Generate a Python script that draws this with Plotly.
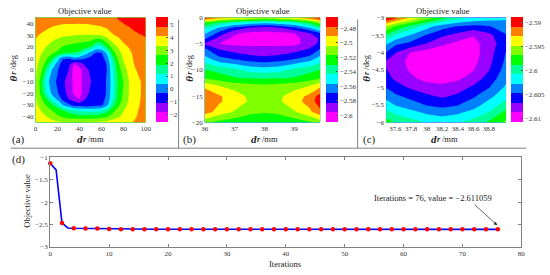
import plotly.graph_objects as go

W, H = 550, 275
SERIF = "Liberation Serif"
COLORS = ["#ff00ff", "#9a00ff", "#0000ff", "#0080ff", "#00ffff", "#00ff99",
          "#00ff00", "#80ff00", "#ffff00", "#ff8000", "#ff0000"]

a_x = [0, 5, 10, 15, 20, 25, 30, 35, 40, 45, 50, 55, 60, 65, 70, 75, 80, 85, 90, 100]
a_y = [45, 40, 30, 20, 15, 10, 5, 0, -10, -20, -25, -30, -35, -40, -45]
a_z = [
    [4.9, 4.6, 4.5, 4.4, 4.3, 4.25, 4.2, 4.2, 4.2, 4.2, 4.25, 4.3, 4.35, 4.5, 4.7, 4.85, 5.0, 5.15, 5.3, 5.5],
    [4.5, 4.4, 4.3, 4.2, 4.15, 4.1, 4.1, 4.1, 4.08, 4.1, 4.15, 4.2, 4.3, 4.4, 4.55, 4.7, 4.8, 4.9, 5.0, 5.2],
    [4.15, 4.0, 3.85, 3.7, 3.55, 3.45, 3.4, 3.35, 3.3, 3.3, 3.3, 3.3, 3.4, 3.65, 4.0, 4.2, 4.4, 4.55, 4.7, 4.85],
    [3.9, 3.6, 3.3, 3.0, 2.75, 2.55, 2.4, 2.3, 2.2, 2.1, 1.9, 0.9, 1.0, 2.0, 2.9, 3.4, 3.9, 4.1, 4.3, 4.6],
    [3.8, 3.4, 3.0, 2.7, 2.5, 2.2, 2.0, 1.85, 1.7, 0.8, 0.2, -0.4, -0.35, 0.6, 2.2, 3.0, 3.6, 3.95, 4.2, 4.5],
    [3.7, 3.2, 2.7, 2.0, 0.8, -0.3, -0.35, 0.1, -0.1, -0.3, -0.6, -0.9, -0.7, 0.0, 1.5, 2.7, 3.4, 3.85, 4.15, 4.5],
    [3.6, 3.0, 2.2, 1.0, 0.0, -0.8, -0.9, -1.9, -1.5, -1.0, -0.9, -1.0, -0.95, -0.3, 1.1, 2.4, 3.2, 3.75, 4.1, 4.45],
    [3.5, 2.8, 1.5, 0.3, -0.3, -0.9, -1.1, -2.2, -2.2, -1.4, -1.0, -0.95, -0.9, -0.35, 0.9, 2.2, 3.0, 3.55, 4.0, 4.4],
    [3.4, 2.2, 0.7, -0.1, -0.5, -0.95, -1.5, -2.0, -2.1, -1.5, -1.15, -0.9, -0.7, -0.3, 0.75, 1.95, 2.6, 3.32, 3.75, 4.3],
    [3.4, 2.4, 1.1, 0.2, -0.3, -0.9, -1.3, -2.0, -2.2, -1.4, -1.0, -0.9, -0.7, -0.3, 0.85, 2.0, 2.7, 3.35, 3.8, 4.25],
    [3.45, 2.7, 1.9, 0.9, 0.2, -0.6, -1.1, -1.4, -1.9, -1.15, -0.9, -0.85, -0.65, -0.2, 1.0, 2.1, 2.8, 3.4, 3.85, 4.25],
    [3.55, 3.0, 2.5, 2.0, 1.2, 0.3, -0.2, -0.7, -0.7, -0.8, -0.7, -0.6, -0.5, 0.1, 1.5, 2.4, 3.0, 3.5, 3.9, 4.25],
    [3.7, 3.3, 2.9, 2.6, 2.3, 1.9, 1.6, 1.2, 1.0, 0.9, 0.9, 0.9, 1.0, 1.6, 2.3, 2.9, 3.3, 3.7, 3.95, 4.3],
    [3.9, 3.6, 3.35, 3.0, 2.7, 2.5, 2.3, 2.2, 2.1, 2.1, 2.15, 2.2, 2.3, 2.5, 2.9, 3.2, 3.5, 3.8, 4.0, 4.3],
    [4.0, 3.85, 3.7, 3.55, 3.45, 3.4, 3.35, 3.35, 3.35, 3.35, 3.4, 3.45, 3.5, 3.6, 3.75, 3.85, 3.9, 4.0, 4.1, 4.3],
]

b_x = [36, 36.5, 37, 37.5, 38, 38.5, 39, 39.5, 39.87]
b_y = [0, -1, -2, -3, -4, -5, -6, -7, -8, -10, -11.5, -13, -15, -16, -18, -19, -20]
b_z = [
    [-2.47, -2.485, -2.49, -2.495, -2.50, -2.495, -2.49, -2.48, -2.468],
    [-2.52, -2.535, -2.545, -2.55, -2.555, -2.55, -2.545, -2.53, -2.51],
    [-2.54, -2.56, -2.575, -2.585, -2.59, -2.585, -2.575, -2.56, -2.54],
    [-2.555, -2.575, -2.595, -2.60, -2.60, -2.60, -2.597, -2.585, -2.572],
    [-2.568, -2.59, -2.60, -2.604, -2.605, -2.604, -2.60, -2.592, -2.582],
    [-2.585, -2.597, -2.60, -2.60, -2.60, -2.60, -2.60, -2.592, -2.58],
    [-2.568, -2.585, -2.59, -2.592, -2.592, -2.592, -2.59, -2.583, -2.57],
    [-2.56, -2.575, -2.58, -2.585, -2.587, -2.585, -2.58, -2.575, -2.56],
    [-2.55, -2.565, -2.57, -2.575, -2.578, -2.575, -2.57, -2.562, -2.55],
    [-2.53, -2.535, -2.54, -2.548, -2.55, -2.548, -2.54, -2.535, -2.53],
    [-2.52, -2.525, -2.53, -2.532, -2.533, -2.532, -2.53, -2.525, -2.52],
    [-2.495, -2.505, -2.51, -2.513, -2.515, -2.513, -2.51, -2.505, -2.495],
    [-2.48, -2.49, -2.498, -2.507, -2.51, -2.507, -2.498, -2.488, -2.472],
    [-2.479, -2.49, -2.497, -2.506, -2.508, -2.506, -2.497, -2.486, -2.47],
    [-2.485, -2.497, -2.506, -2.514, -2.516, -2.514, -2.506, -2.495, -2.482],
    [-2.50, -2.51, -2.516, -2.522, -2.525, -2.522, -2.516, -2.508, -2.498],
    [-2.515, -2.522, -2.525, -2.528, -2.53, -2.528, -2.525, -2.52, -2.512],
]

c_x = [37.48, 37.6, 37.8, 38, 38.2, 38.4, 38.6, 38.8, 39.02]
c_y = [-3, -3.25, -3.5, -3.75, -4, -4.25, -4.5, -4.75, -5, -5.25, -5.5, -5.75, -6]
c_z = [
    [-2.5885, -2.5905, -2.593, -2.5955, -2.598, -2.6, -2.601, -2.6018, -2.6025],
    [-2.595, -2.597, -2.5995, -2.602, -2.604, -2.605, -2.6055, -2.605, -2.604],
    [-2.599, -2.601, -2.603, -2.605, -2.6065, -2.6075, -2.6088, -2.6075, -2.605],
    [-2.6025, -2.6045, -2.6055, -2.607, -2.6085, -2.6095, -2.6095, -2.608, -2.6055],
    [-2.605, -2.6068, -2.609, -2.6098, -2.6102, -2.6104, -2.6097, -2.6078, -2.6048],
    [-2.607, -2.608, -2.6095, -2.6105, -2.6108, -2.6105, -2.6095, -2.6075, -2.6045],
    [-2.6068, -2.6078, -2.6092, -2.6103, -2.6105, -2.6102, -2.609, -2.607, -2.604],
    [-2.6062, -2.6072, -2.6085, -2.6095, -2.6097, -2.6092, -2.608, -2.606, -2.6035],
    [-2.605, -2.606, -2.6072, -2.608, -2.6083, -2.6078, -2.6065, -2.605, -2.6025],
    [-2.6035, -2.6045, -2.6055, -2.6065, -2.6072, -2.6065, -2.6052, -2.6035, -2.6015],
    [-2.602, -2.603, -2.604, -2.605, -2.6055, -2.605, -2.6038, -2.602, -2.6],
    [-2.6, -2.601, -2.602, -2.603, -2.6035, -2.603, -2.602, -2.6005, -2.598],
    [-2.598, -2.599, -2.6, -2.601, -2.6015, -2.601, -2.6, -2.5985, -2.5965],
]

iterations = [0, 1, 2, 3, 4, 6, 8, 10, 12, 14, 16, 18, 20, 22, 24, 26, 28, 30, 32, 34, 36, 38, 40,
              42, 44, 46, 48, 50, 52, 54, 56, 58, 60, 62, 64, 66, 68, 70, 72, 74, 76]
objective = [-1.13, -1.28, -2.47, -2.58, -2.585, -2.59, -2.59, -2.605, -2.608, -2.609, -2.61, -2.61,
             -2.61, -2.61, -2.611, -2.611, -2.611, -2.611, -2.611, -2.611, -2.611, -2.611, -2.611,
             -2.611, -2.611, -2.611, -2.611, -2.611, -2.611, -2.611, -2.611, -2.611, -2.611, -2.611,
             -2.611, -2.611, -2.611, -2.611, -2.611, -2.611, -2.611059]
marker_iter = [0, 2, 4, 6, 8, 10, 12, 14, 16, 18, 20, 22, 24, 26, 28, 30, 32, 34, 36, 38, 40,
               42, 44, 46, 48, 50, 52, 54, 56, 58, 60, 62, 64, 66, 68, 70, 72, 74, 76]
marker_val = [-1.13, -2.47, -2.585, -2.59, -2.59, -2.605, -2.608, -2.609, -2.61, -2.61,
              -2.61, -2.61, -2.611, -2.611, -2.611, -2.611, -2.611, -2.611, -2.611, -2.611, -2.611,
              -2.611, -2.611, -2.611, -2.611, -2.611, -2.611, -2.611, -2.611, -2.611, -2.611, -2.611,
              -2.611, -2.611, -2.611, -2.611, -2.611, -2.611, -2.611059]

PANELS = [
    dict(x=a_x, y=a_y, z=a_z, box=(33, 145, 14, 122), bar=(156, 168), zr=(-2.6, 5.54),
         xr=(0, 100), yr=(-45, 45), xt=[0, 20, 40, 60, 80, 100], yt=[-40, -30, -20, -10, 0, 10, 20, 30, 40],
         ct=[-2, -1, 0, 1, 2, 3, 4, 5]),
    dict(x=b_x, y=b_y, z=b_z, box=(205, 322.5, 14, 122), bar=(328, 340), zr=(-2.61, -2.465),
         xr=(36, 39.87), yr=(-20, 0), xt=[36, 37, 38, 39], yt=[-20, -15, -10, -5, 0],
         ct=[-2.6, -2.58, -2.56, -2.54, -2.52, -2.5, -2.48]),
    dict(x=c_x, y=c_y, z=c_z, box=(389.5, 511.5, 14, 122), bar=(516, 528), zr=(-2.6109, -2.5889),
         xr=(37.48, 39.02), yr=(-6, -3), xt=[37.6, 37.8, 38, 38.2, 38.4, 38.6, 38.8],
         yt=[-6, -5.5, -5, -4.5, -4, -3.5, -3],
         ct=[-2.61, -2.605, -2.6, -2.595, -2.59]),
]

def fmt(v):
    return f"{v:g}".replace("-", "\u2212")

def point_scale():
    n = len(COLORS) - 1
    return [[i / n, c] for i, c in enumerate(COLORS)]

TICK = dict(family=SERIF, size=7, color="#333333")
AX = dict(showgrid=False, zeroline=False, showline=False, ticks="", tickfont=TICK, ticklen=0)

fig = go.Figure()
layout = dict(width=W, height=H, margin=dict(l=0, r=0, t=0, b=0), autosize=False,
              paper_bgcolor="white", plot_bgcolor="white", showlegend=False)
ann = []
shapes = []

def txt(x, y, s, size, angle=0, color="#222222", anchor="center", **fontopts):
    ann.append(dict(xref="paper", yref="paper", x=x / W, y=1 - y / H, text=s, showarrow=False,
                    font=dict(family=SERIF, size=size, color=color, **fontopts), textangle=angle,
                    xanchor=anchor, yanchor="middle"))

for i, p in enumerate(PANELS, start=1):
    x0, x1, y0, y1 = p["box"]
    zlo, zhi = p["zr"]
    size = (zhi - zlo) / len(COLORS)
    layout[f"xaxis{i}"] = dict(AX, domain=[x0 / W, x1 / W], range=list(p["xr"]), tickvals=p["xt"],
                               ticktext=[fmt(v) for v in p["xt"]], anchor=f"y{i}", ticklabelstandoff=1)
    layout[f"yaxis{i}"] = dict(AX, domain=[1 - y1 / H, 1 - y0 / H], range=list(p["yr"]), tickvals=p["yt"],
                               ticktext=[fmt(v) for v in p["yt"]], anchor=f"x{i}", ticklabelstandoff=1)
    fig.add_trace(go.Contour(
        x=p["x"], y=p["y"], z=p["z"], xaxis=f"x{i}", yaxis=f"y{i}",
        zmin=zlo, zmax=zhi, colorscale=point_scale(), autocontour=False,
        contours=dict(start=zlo + size, end=zhi - size * 0.999, size=size, coloring="fill", showlines=False),
        line=dict(width=0, smoothing=0),
        colorbar=dict(x=p["bar"][0] / W, xanchor="left", xpad=0, ypad=0,
                      y=1 - y1 / H, yanchor="bottom", len=(y1 - y0) / H, lenmode="fraction",
                      thickness=p["bar"][1] - p["bar"][0], thicknessmode="pixels",
                      outlinewidth=0, tickvals=p["ct"], ticktext=[fmt(v) for v in p["ct"]],
                      tickfont=TICK, ticks="inside", ticklen=2, tickcolor="#555555", tickwidth=0.5),
    ))

# Panel (d)
layout["xaxis4"] = dict(domain=[48 / W, 527 / W], range=[0, 80], anchor="y4", showgrid=False, zeroline=False,
                        tickvals=list(range(0, 81, 10)), tickfont=TICK, showline=True, linecolor="#808080",
                        linewidth=1, mirror="ticks", ticks="inside", ticklen=3, tickcolor="#808080",
                        tickwidth=0.7)
layout["yaxis4"] = dict(domain=[1 - 250 / H, 1 - 158 / H], range=[-3, -1], anchor="x4", showgrid=False,
                        zeroline=False, tickvals=[-3, -2.5, -2, -1.5, -1],
                        ticktext=[fmt(v) for v in [-3, -2.5, -2, -1.5, -1]], tickfont=TICK, showline=True,
                        linecolor="#808080", linewidth=1, mirror="ticks", ticks="inside", ticklen=3,
                        tickcolor="#808080", tickwidth=0.7)
fig.add_trace(go.Scatter(x=iterations, y=objective, xaxis="x4", yaxis="y4", mode="lines",
                         line=dict(color="#0000ff", width=1.6), cliponaxis=False))
fig.add_trace(go.Scatter(x=marker_iter, y=marker_val, xaxis="x4", yaxis="y4", mode="markers",
                         marker=dict(color="#ff0000", size=4.5), cliponaxis=False))

ann.append(dict(xref="x4", yref="y4", x=75.9, y=-2.52, ax=-24, ay=-22, axref="pixel", ayref="pixel",
                text="", showarrow=True, arrowhead=2, arrowsize=1, arrowwidth=0.7, arrowcolor="#222222"))
txt(437, 200, "Iterations = 76, value = \u22122.611059", 8.5)

for cx, s in [(83, "Objective value"), (264, "Objective value"), (447, "Objective value")]:
    txt(cx, 7, s, 8.5)
for shift in (0, 177, 360):
    txt(78 + shift, 139, "d", 11, weight="bold", style="italic")
    txt(83.5 + shift, 140, "r", 8, weight="bold", style="italic")
    txt(94.5 + shift, 139.5, "/mm", 8.5)
for cx in (10, 189, 369):
    txt(cx, 77, "\u03b8", 11, angle=-90, weight="bold", style="italic")
    txt(cx + 1, 71, "r", 8, angle=-90, weight="bold", style="italic")
    txt(cx + 0.5, 60, "/deg", 8.5, angle=-90)
txt(16, 140, "(a)", 11)
txt(190, 140, "(b)", 11)
txt(373, 140, "(c)", 11)
txt(16, 160, "(d)", 11)
txt(24, 203, "Objective value", 8.5, angle=-90)
txt(287, 268, "Iterations", 8.5)

for x0_, y0_, x1_, y1_ in [(8, 148.5, 532, 148.5), (178.5, 16, 178.5, 148.5), (360.5, 16, 360.5, 148.5)]:
    shapes.append(dict(type="line", xref="paper", yref="paper", x0=x0_ / W, x1=x1_ / W,
                       y0=1 - y0_ / H, y1=1 - y1_ / H, line=dict(color="#808080", width=1)))

fig.update_layout(**layout, annotations=ann, shapes=shapes)
fig.write_html("out.html", config={"displayModeBar": False},
               post_script="document.body.style.margin='0';")
